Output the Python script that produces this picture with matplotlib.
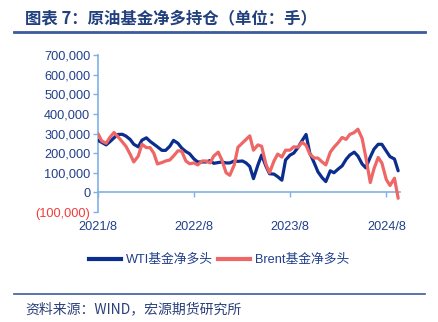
import matplotlib
matplotlib.use("Agg")
import matplotlib.pyplot as plt
import matplotlib.dates as mdates
import matplotlib.ticker as mticker
from matplotlib.lines import Line2D
import pandas as pd

plt.rcParams['font.family'] = ['Liberation Sans', 'Noto Sans CJK SC', 'DejaVu Sans']

# semi-monthly observations, 2021/8 .. 2024/9
dates = pd.date_range('2021-08-01', periods=76, freq='SMS')

wti = [265, 255, 242, 258, 278, 295, 296, 287, 270, 245, 232, 266, 278, 260, 246, 232,
       214, 214, 235, 265, 250, 226, 208, 197, 170, 155, 155, 155, 162, 148, 152, 155,
       150, 150, 160, 158, 160, 150, 132, 70, 140, 190, 135, 95, 93, 80, 62, 165,
       190, 200, 230, 262, 295, 200, 150, 105, 75, 55, 110, 100, 120, 135, 168, 190,
       205, 185, 145, 125, 180, 220, 245, 245, 210, 182, 170, 110]
brent = [299, 262, 250, 280, 305, 285, 258, 235, 195, 155, 185, 245, 228, 228, 200, 145,
         152, 160, 165, 185, 212, 210, 160, 146, 150, 140, 160, 160, 150, 185, 205, 165,
         100, 87, 140, 230, 252, 270, 288, 215, 242, 235, 145, 100, 160, 195, 180, 215,
         215, 232, 230, 255, 240, 195, 175, 175, 155, 140, 205, 230, 255, 280, 270, 295,
         305, 322, 275, 180, 50, 120, 178, 150, 65, 35, 72, -30]
wti = [v * 1000 for v in wti]
brent = [v * 1000 for v in brent]

title = '图表 7：原油基金净多持仓（单位：手）'
source = '资料来源：WIND，宏源期货研究所'
y_ticks = [-100000, 0, 100000, 200000, 300000, 400000, 500000, 600000, 700000]
x_ticks = ['2021-08-01', '2022-08-01', '2023-08-01', '2024-08-01']

navy = '#0B2D8E'
red = '#EE6666'
txt = '#213F8A'
axis_c = '#7FB1E5'
title_c = '#23407E'

fig = plt.figure(figsize=(4.39, 3.22), dpi=100)
W, H = 439, 322
ax = fig.add_axes([98 / W, 1 - 212 / H, (400 - 98) / W, (212 - 55) / H])

ax.plot(dates, wti, color=navy, lw=2.3, solid_capstyle='round', solid_joinstyle='round', zorder=3)
ax.plot(dates, brent, color=red, lw=2.3, solid_capstyle='round', solid_joinstyle='round', zorder=4)

ax.set_ylim(-100000, 700000)
ax.set_xlim(pd.Timestamp('2021-08-01'), pd.Timestamp('2024-09-22'))
ax.set_yticks(y_ticks)
ax.yaxis.set_major_formatter(mticker.FuncFormatter(
    lambda v, p: f'({abs(int(v)):,})' if v < 0 else f'{int(v):,}'))
ax.set_xticks([pd.Timestamp(d) for d in x_ticks])
ax.xaxis.set_major_formatter(mdates.DateFormatter('%Y/%-m'))

for s in ['top', 'right']:
    ax.spines[s].set_visible(False)
ax.spines['left'].set_color(axis_c)
ax.spines['left'].set_linewidth(1.2)
ax.spines['bottom'].set_position(('data', 0))
ax.spines['bottom'].set_color(axis_c)
ax.spines['bottom'].set_linewidth(1.2)

ax.tick_params(axis='y', colors=axis_c, length=3.5, width=1.0, labelsize=9.2,
               labelcolor=txt, pad=2)
ax.tick_params(axis='x', colors=axis_c, length=3.5, width=1.0, labelsize=9.2,
               labelcolor=txt, pad=17)
for lab, v in zip(ax.get_yticklabels(), y_ticks):
    if v < 0:
        lab.set_color('#F03C3C')

# header / footer
fig.text(25 / W, 1 - 18 / H, title, fontsize=11.8, fontweight='bold', color=title_c,
         ha='left', va='center', family=['Noto Sans CJK SC', 'DejaVu Sans'])
fig.add_artist(Line2D([14 / W, 425 / W], [1 - 32 / H, 1 - 32 / H], color='#3B5B9A', lw=2.0))
fig.add_artist(Line2D([14 / W, 425 / W], [1 - 294 / H, 1 - 294 / H], color='#3B5B9A', lw=1.2))
fig.text(25 / W, 1 - 309 / H, source, fontsize=10, color='#2B3F7A', ha='left', va='center',
         family=['Noto Sans CJK SC', 'DejaVu Sans'])

handles = [Line2D([], [], color=navy, lw=3.0), Line2D([], [], color=red, lw=3.0)]
leg = fig.legend(handles, ['WTI基金净多头', 'Brent基金净多头'], loc='center',
                 bbox_to_anchor=(219 / W, 1 - 260 / H), ncol=2, frameon=False,
                 handlelength=2.5, handletextpad=0.4, columnspacing=0.4,
                 prop={'family': ['Liberation Sans', 'Noto Sans CJK SC'], 'size': 9.2})
for t in leg.get_texts():
    t.set_color(txt)

fig.savefig('out.png', dpi=100)
